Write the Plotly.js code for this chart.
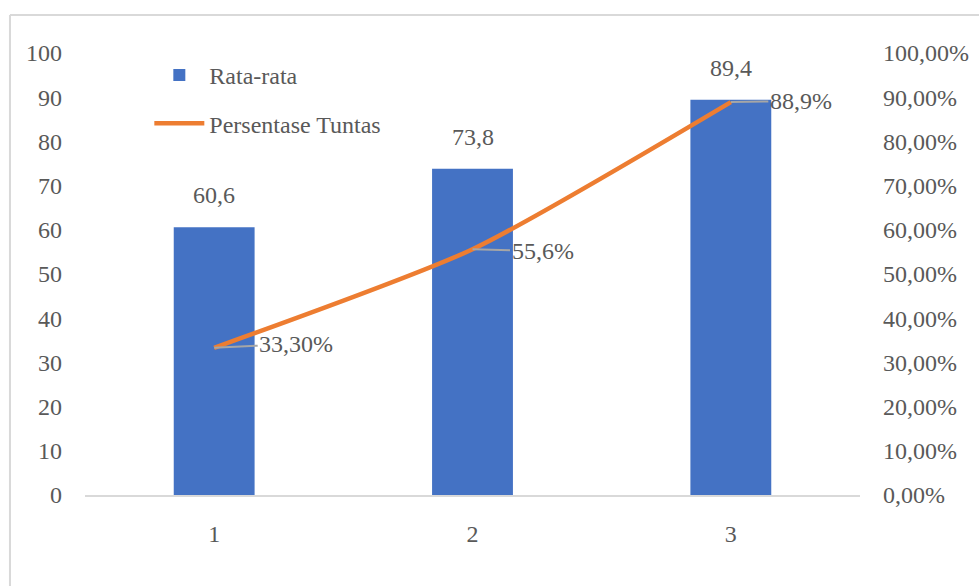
<!DOCTYPE html>
<html>
<head>
<meta charset="utf-8">
<script src="https://cdn.plot.ly/plotly-3.0.1.min.js"></script>
<style>html,body{margin:0;padding:0;background:#fff;}#chart{width:979px;height:586px;}</style>
</head>
<body>
<div id="chart"></div>
<script>
var categories = ['1', '2', '3'];
var rataRata = [60.6, 73.8, 89.4];
var persentaseTuntas = [0.333, 0.556, 0.889];
var barLabels = ['60,6', '73,8', '89,4'];
var lineLabels = ['33,30%', '55,6%', '88,9%'];
var leftTicks = [0, 10, 20, 30, 40, 50, 60, 70, 80, 90, 100];
var rightTicks = [0, 0.1, 0.2, 0.3, 0.4, 0.5, 0.6, 0.7, 0.8, 0.9, 1.0];

var FONT = 'Liberation Serif, Times New Roman, serif';
var TXT = '#595959';
var FS = 24;

var traces = [
  {
    type: 'bar', name: 'Rata-rata', x: categories, y: rataRata, legendgroup: 'a',
    marker: {color: '#4472C4'}, yaxis: 'y', hoverinfo: 'none'
  },
  {
    type: 'scatter', mode: 'lines', name: 'Persentase Tuntas', x: categories, y: persentaseTuntas, legendgroup: 'b',
    line: {color: '#ED7D31', width: 4.5, shape: 'spline', smoothing: 0.6}, yaxis: 'y2', hoverinfo: 'none'
  }
];

var annotations = [];
for (var i = 0; i < categories.length; i++) {
  annotations.push({
    x: i, y: rataRata[i], xref: 'x', yref: 'y', text: barLabels[i],
    showarrow: false, yanchor: 'bottom', yshift: 17, font: {family: FONT, size: FS, color: TXT}
  });
}
var offsets = [[82, -4], [70, 2], [70, -1]];
for (var j = 0; j < categories.length; j++) {
  annotations.push({
    x: j, y: persentaseTuntas[j], xref: 'x', yref: 'y2', text: lineLabels[j],
    showarrow: true, arrowhead: 0, arrowwidth: 2, arrowcolor: '#A6A6A6', standoff: 0,
    ax: offsets[j][0], ay: offsets[j][1], font: {family: FONT, size: FS, color: TXT}
  });
}

var layout = {
  width: 979, height: 586,
  margin: {l: 85, r: 119, t: 53, b: 91},
  paper_bgcolor: '#fff', plot_bgcolor: '#fff',
  font: {family: FONT, size: FS, color: TXT},
  separators: ',.',
  bargap: 0.687,
  showlegend: true,
  legend: {
    x: 0.083, y: 1.0, xanchor: 'left', yanchor: 'top', xref: 'paper', yref: 'paper',
    bgcolor: 'rgba(0,0,0,0)', font: {family: FONT, size: FS, color: TXT},
    itemwidth: 50, tracegroupgap: 14, traceorder: 'grouped'
  },
  xaxis: {
    type: 'category', range: [-0.5, 2.5], showgrid: false, showline: true, linecolor: '#D9D9D9', linewidth: 2,
    ticks: '', ticklabelstandoff: 16, tickfont: {family: FONT, size: FS, color: TXT}, zeroline: false
  },
  yaxis: {
    range: [0, 100], tickvals: leftTicks, showgrid: false, showline: false, zeroline: false,
    ticks: '', ticklabelstandoff: 22, tickfont: {family: FONT, size: FS, color: TXT}
  },
  yaxis2: {
    range: [0, 1], tickvals: rightTicks, tickformat: '.2%', overlaying: 'y', side: 'right',
    showgrid: false, showline: false, zeroline: false, ticks: '', ticklabelstandoff: 22,
    tickfont: {family: FONT, size: FS, color: TXT}
  },
  annotations: annotations,
  shapes: [
    {type: 'line', xref: 'paper', yref: 'paper', x0: -0.0968, x1: 1.2, y0: 1.086, y1: 1.086, line: {color: '#D9D9D9', width: 2}},
    {type: 'line', xref: 'paper', yref: 'paper', x0: -0.0968, x1: -0.0968, y0: 1.086, y1: -0.25, line: {color: '#D9D9D9', width: 2}}
  ]
};

Plotly.newPlot('chart', traces, layout, {displayModeBar: false, staticPlot: true});
</script>
</body>
</html>
